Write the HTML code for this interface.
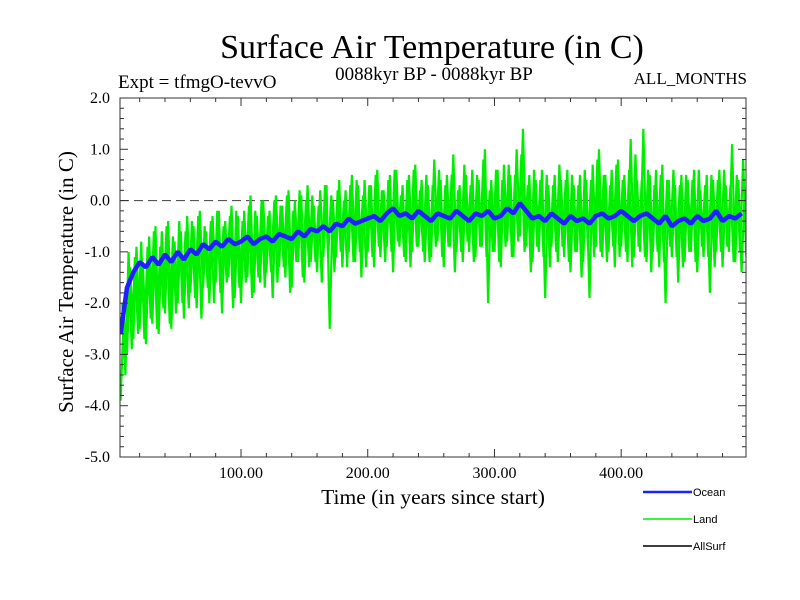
<!DOCTYPE html>
<html><head><meta charset="utf-8"><style>
html,body{margin:0;padding:0;background:#fff;}
svg{display:block;font-family:"Liberation Serif",serif;}
</style></head><body>
<svg id="chart" width="800" height="600">
<text x="432" y="58" font-size="34" text-anchor="middle">Surface Air Temperature (in C)</text>
<text x="434" y="80" font-size="19" text-anchor="middle">0088kyr BP - 0088kyr BP</text>
<text x="118" y="88" font-size="19">Expt = tfmgO-tevvO</text>
<text x="747" y="84" font-size="17" text-anchor="end">ALL_MONTHS</text>
<text x="433" y="504" font-size="21.5" text-anchor="middle">Time (in years since start)</text>
<text transform="translate(73,282) rotate(-90)" font-size="21" text-anchor="middle">Surface Air Temperature (in C)</text>
<g id="plot"></g>
<g id="axes"></g>
<g id="legend" font-family="Liberation Sans, sans-serif" font-size="11">
<line x1="643" y1="492" x2="692" y2="492" stroke="#2020ff" stroke-width="2.5"/>
<text x="693" y="496">Ocean</text>
<line x1="643" y1="519" x2="692" y2="519" stroke="#00ee00" stroke-width="1.5"/>
<text x="693" y="523">Land</text>
<line x1="643" y1="546" x2="692" y2="546" stroke="#000" stroke-width="1.5"/>
<text x="693" y="550">AllSurf</text>
</g>
</svg>
<script>
const xTicks = [100, 200, 300, 400];
const xTickLabels = ["100.00", "200.00", "300.00", "400.00"];
const yTicks = [2, 1, 0, -1, -2, -3, -4, -5];
const yTickLabels = ["2.0", "1.0", "0.0", "-1.0", "-2.0", "-3.0", "-4.0", "-5.0"];
const oceanStart = 5, oceanStep = 5;
const oceanValues = [-2.6,-1.7,-1.4,-1.2,-1.3,-1.1,-1.25,-1.05,-1.2,-1.0,-1.15,-0.95,-1.05,-0.85,-0.95,-0.8,-0.9,-0.75,-0.85,-0.8,
-0.7,-0.85,-0.75,-0.7,-0.8,-0.65,-0.7,-0.75,-0.6,-0.7,-0.55,-0.6,-0.5,-0.6,-0.45,-0.5,-0.35,-0.45,-0.4,-0.35,
-0.3,-0.4,-0.25,-0.15,-0.3,-0.25,-0.35,-0.2,-0.3,-0.4,-0.25,-0.3,-0.35,-0.2,-0.3,-0.4,-0.25,-0.3,-0.2,-0.35,
-0.3,-0.15,-0.25,-0.05,-0.2,-0.35,-0.3,-0.4,-0.25,-0.35,-0.45,-0.3,-0.4,-0.35,-0.45,-0.3,-0.25,-0.35,-0.3,-0.2,
-0.3,-0.4,-0.3,-0.25,-0.35,-0.45,-0.3,-0.5,-0.4,-0.35,-0.45,-0.3,-0.4,-0.35,-0.2,-0.4,-0.3,-0.35,-0.25];
const landStart = 5, landStep = 2.5;
const landValues = [-3.9,-2.2,-3.0,-1.3,-2.7,-0.9,-2.5,-1.2,-2.8,-0.7,-2.4,-0.5,-2.6,-0.6,-2.2,-0.4,-2.5,-0.8,-2.0,-0.6,
-2.3,-0.3,-1.8,-0.5,-2.1,-0.2,-1.7,-0.6,-2.0,-0.3,-1.6,-0.2,-2.2,-0.4,-1.5,-0.1,-1.9,-0.3,-2.0,-0.2,
-1.5,0.1,-1.8,-0.3,-1.6,0.0,-1.4,-0.2,-1.9,0.1,-1.3,-0.1,-1.5,0.2,-1.7,0.0,-1.2,0.1,-1.6,0.3,
-1.2,-0.1,-1.4,0.2,-1.1,0.3,-2.5,0.0,-1.1,0.4,-1.3,0.2,-1.0,0.5,-1.2,0.3,-1.5,0.4,-1.0,0.3,
-1.3,0.6,-1.1,0.2,-0.9,0.5,-1.4,0.6,-0.9,0.3,-1.2,0.5,-1.0,0.7,-0.9,0.4,-1.2,0.3,-1.1,0.8,
-0.8,0.4,-1.3,0.5,-0.9,0.9,-1.0,0.3,-1.2,0.5,-1.0,0.6,-1.1,0.4,-0.9,1.0,-2.0,0.4,-1.0,0.6,
-1.3,0.7,-0.8,0.5,-1.1,1.0,-0.7,1.4,-0.9,0.5,-1.2,0.4,-1.0,0.6,-1.9,0.3,-0.9,0.5,-1.2,0.4,
-1.1,0.6,-1.4,0.3,-1.0,0.5,-1.2,0.4,-1.9,0.7,-0.9,1.0,-1.1,0.5,-1.0,0.6,-1.3,0.8,-0.9,0.5,
-1.2,1.2,-1.1,0.4,-1.0,1.4,-1.2,0.5,-1.0,0.6,-1.3,0.7,-2.0,0.4,-1.1,0.3,-1.6,0.5,-1.2,0.4,
-1.0,0.6,-1.4,0.2,-1.1,0.5,-1.8,0.4,-1.0,0.6,-1.3,0.3,-1.0,1.1,-1.2,0.4,-1.4,0.2];
const landStartB = 6.25;
const landValuesB = [-2.0,-3.4,-1.0,-2.9,-1.1,-2.6,-0.8,-2.7,-0.9,-2.3,-0.6,-2.5,-0.9,-2.1,-0.5,-2.4,-0.7,-2.2,-0.4,-2.0,
-0.6,-2.1,-0.4,-1.9,-0.3,-2.3,-0.5,-1.7,-0.4,-2.0,-0.2,-1.8,-0.5,-1.6,-0.3,-2.1,-0.2,-1.7,-0.4,-1.6,
-0.1,-1.9,-0.2,-1.5,0.0,-1.7,-0.3,-1.4,0.0,-1.6,-0.1,-1.3,0.1,-1.8,-0.2,-1.2,0.2,-1.5,0.0,-1.3,
0.1,-1.2,-0.1,-1.6,0.3,-1.1,0.1,-1.4,0.2,-1.0,0.0,-1.3,0.3,-1.2,0.4,-1.0,0.1,-1.3,0.3,-1.1,
0.5,-0.9,0.2,-1.2,0.4,-1.0,0.6,-0.8,0.1,-1.1,0.4,-1.3,0.6,-0.9,0.2,-1.0,0.5,-1.2,0.3,-0.9,
0.6,-1.1,0.3,-0.9,0.5,-1.4,0.2,-1.0,0.7,-0.8,0.3,-1.2,0.5,-0.9,0.8,-1.1,0.2,-1.0,0.6,-1.2,
0.4,-0.9,0.7,-1.1,0.5,-0.8,0.9,-1.0,0.3,-1.4,0.6,-0.9,0.4,-1.1,0.5,-1.3,0.3,-1.0,0.7,-0.9,
0.4,-1.2,0.5,-1.0,0.3,-1.5,0.6,-0.9,0.4,-1.1,0.8,-1.0,0.5,-1.2,0.3,-0.9,0.7,-1.1,0.4,-1.0,
0.6,-1.3,0.9,-0.9,0.4,-1.1,0.6,-1.4,0.3,-1.0,0.5,-1.2,0.4,-0.9,0.6,-1.1,0.3,-1.3,0.5,-1.0,
0.4,-1.2,0.6,-0.9,0.3,-1.1,0.5,-1.3,0.4,-1.0,0.6,-0.9,0.3,-1.2,0.5,-1.0,0.8,-1.1];

const NS = "http://www.w3.org/2000/svg";
const L = 120, R = 746, T = 98, B = 457;
const xMin = 4.5, xMax = 498.5, yMin = -5, yMax = 2;
function xs(v){ return L + (v - xMin) / (xMax - xMin) * (R - L); }
function ys(v){ return B - (v - yMin) / (yMax - yMin) * (B - T); }
function mk(tag, attrs, parent){ const e = document.createElementNS(NS, tag); for (const k in attrs) e.setAttribute(k, attrs[k]); parent.appendChild(e); return e; }

const plot = document.getElementById('plot');
const axes = document.getElementById('axes');

const clip = mk('clipPath', {id:'pclip'}, plot);
mk('rect', {x:L, y:T, width:R-L, height:B-T}, clip);
plot.setAttribute('clip-path', 'url(#pclip)');

const zl = mk('line', {x1:L, x2:R, y1:ys(0), y2:ys(0), stroke:'#555', 'stroke-width':1.2, 'stroke-dasharray':'9,5'}, plot);



function series(vals, start, step, color, w, name){
  let d = '';
  vals.forEach((v, i) => { d += (i ? 'L' : 'M') + xs(start + i*step).toFixed(2) + ',' + ys(v).toFixed(2); });
  const p = mk('path', {d:d, fill:'none', stroke:color, 'stroke-width':w, 'stroke-linejoin':'miter', 'stroke-miterlimit':1}, plot);
  
  
}
series(landValues, landStart, landStep, '#00ee00', 2.2, 'land-series');
series(landValuesB, landStartB, landStep, '#00ee00', 2.2, 'land-series-alt-years');
series(oceanValues, oceanStart, oceanStep, '#2020ff', 4.5, 'ocean-series');

const fr = mk('rect', {x:L, y:T, width:R-L, height:B-T, fill:'none', stroke:'#333', 'stroke-width':1}, axes);



for (let v = yMin; v <= yMax + 1e-9; v += 0.2) {
  const major = Math.abs(v - Math.round(v)) < 1e-6;
  const len = major ? 8 : 4;
  mk('line', {x1:L, x2:L+len, y1:ys(v), y2:ys(v), stroke:'#333'}, axes);
  mk('line', {x1:R, x2:R-len, y1:ys(v), y2:ys(v), stroke:'#333'}, axes);
}
yTicks.forEach((v, i) => {
  const t = mk('text', {x:L-10, y:ys(v)+5, 'font-size':16, 'text-anchor':'end'}, axes);
  t.textContent = yTickLabels[i];
  
  
});
for (let v = 20; v < xMax; v += 20) {
  const major = v % 100 === 0;
  const len = major ? 8 : 4;
  mk('line', {x1:xs(v), x2:xs(v), y1:B, y2:B-len, stroke:'#333'}, axes);
  mk('line', {x1:xs(v), x2:xs(v), y1:T, y2:T+len, stroke:'#333'}, axes);
}
xTicks.forEach((v, i) => {
  const t = mk('text', {x:xs(v), y:B+21, 'font-size':16, 'text-anchor':'middle'}, axes);
  t.textContent = xTickLabels[i];
  
  
});
</script>
</body></html>
